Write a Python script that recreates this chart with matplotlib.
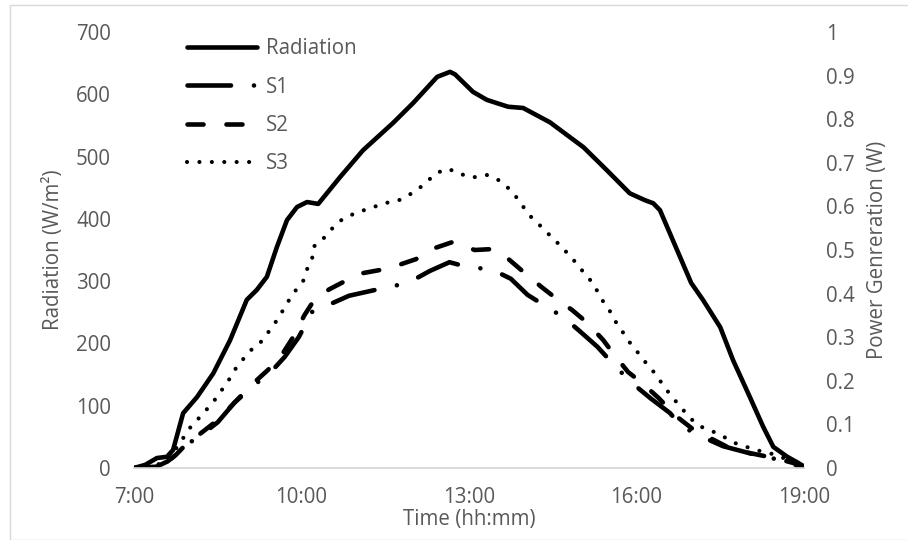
import matplotlib
matplotlib.use("Agg")
import matplotlib.pyplot as plt
from matplotlib.patches import Rectangle

# ---- data ----
rad_t = [7.0, 7.2, 7.41, 7.59, 7.70, 7.88, 8.13, 8.42, 8.72, 9.02, 9.20, 9.38, 9.56, 9.74,
         9.92, 10.10, 10.30, 10.69, 11.10, 11.64, 12.0, 12.43, 12.66, 12.75, 13.07, 13.32,
         13.7, 13.97, 14.45, 15.05, 15.47, 15.88, 16.15, 16.3, 16.42, 16.98, 17.19, 17.5,
         17.73, 18.03, 18.27, 18.45, 18.7, 18.9, 19.0]
rad_v = [0, 5, 16, 18, 29, 88, 114, 152, 205, 270, 286, 307, 355, 398,
         419, 427, 424, 467, 510, 554, 586, 628, 636, 632, 604, 591,
         580, 578, 555, 515, 478, 441, 430, 425, 414, 297, 270, 226,
         173, 114, 66, 34, 18, 8, 2]

s1_t = [7.0, 7.4, 7.6, 7.75, 7.9, 8.2, 8.5, 8.8, 9.15, 9.45, 9.7, 9.95, 10.2, 10.5,
        10.85, 11.2, 11.55, 11.9, 12.3, 12.65, 13.0, 13.4, 13.75, 14.05, 14.4, 14.7,
        15.0, 15.3, 15.6, 15.9, 16.25, 16.6, 16.8, 17.2, 17.55, 18.2, 18.6, 19.0]
s1_v = [0, 0.003, 0.015, 0.03, 0.05, 0.075, 0.105, 0.15, 0.19, 0.22, 0.255, 0.30, 0.36, 0.375,
        0.395, 0.405, 0.415, 0.424, 0.452, 0.472, 0.46, 0.456, 0.434, 0.397, 0.369, 0.345,
        0.312, 0.278, 0.236, 0.197, 0.16, 0.126, 0.096, 0.07, 0.05, 0.028, 0.018, 0.0]

s2_t = [7.0, 7.4, 7.6, 7.75, 7.9, 8.2, 8.5, 8.8, 9.1, 9.4, 9.65, 9.85, 10.05, 10.25,
        10.5, 10.8, 11.1, 11.4, 11.75, 12.05, 12.4, 12.7, 12.9, 13.1, 13.4, 13.7, 14.0,
        14.3, 14.55, 14.85, 15.1, 15.4, 15.6, 15.85, 16.1, 16.4, 16.7, 17.0, 17.3, 17.6,
        18.0, 18.5, 19.0]
s2_v = [0, 0.003, 0.015, 0.03, 0.05, 0.08, 0.11, 0.15, 0.19, 0.225, 0.26, 0.30, 0.35, 0.39,
        0.41, 0.43, 0.447, 0.454, 0.466, 0.479, 0.505, 0.518, 0.51, 0.50, 0.502, 0.48, 0.447,
        0.415, 0.39, 0.362, 0.335, 0.294, 0.26, 0.22, 0.195, 0.16, 0.12, 0.09, 0.07, 0.05,
        0.035, 0.022, 0.005]

s3_t = [7.0, 7.5, 7.65, 7.82, 8.04, 8.2, 8.34, 8.49, 8.61, 8.72, 8.84, 8.99, 9.13, 9.29,
        9.42, 9.56, 9.67, 9.79, 9.9, 10.03, 10.1, 10.19, 10.21, 10.37, 10.51, 10.66, 10.83,
        11.0, 11.17, 11.35, 11.51, 11.71, 11.87, 12.05, 12.23, 12.37, 12.57, 12.77, 12.96,
        13.14, 13.32, 13.52, 13.68, 13.82, 13.95, 14.08, 14.22, 14.38, 14.51, 14.67, 14.79,
        14.93, 15.06, 15.2, 15.32, 15.42, 15.55, 15.65, 15.78, 15.9, 16.03, 16.17, 16.31,
        16.44, 16.57, 16.71, 16.85, 17.0, 17.17, 17.38, 17.57, 17.77, 17.98, 18.18, 18.39,
        18.6, 18.8, 19.0]
s3_v = [0, 0.01, 0.025, 0.057, 0.099, 0.119, 0.14, 0.163, 0.186, 0.206, 0.232, 0.255, 0.275, 0.291,
        0.314, 0.339, 0.362, 0.388, 0.408, 0.429, 0.456, 0.479, 0.507, 0.523, 0.544, 0.564, 0.578,
        0.585, 0.594, 0.601, 0.608, 0.612, 0.622, 0.636, 0.654, 0.672, 0.686, 0.681, 0.668,
        0.667, 0.672, 0.661, 0.645, 0.626, 0.603, 0.580, 0.562, 0.544, 0.523, 0.509, 0.486,
        0.470, 0.447, 0.427, 0.401, 0.378, 0.355, 0.330, 0.307, 0.284, 0.264, 0.241, 0.22,
        0.197, 0.174, 0.152, 0.131, 0.110, 0.094, 0.083, 0.071, 0.057, 0.048, 0.040, 0.034,
        0.024, 0.018, 0.007]

x_ticks = [7, 10, 13, 16, 19]
x_labels = ["7:00", "10:00", "13:00", "16:00", "19:00"]
left_ticks = [0, 100, 200, 300, 400, 500, 600, 700]
right_ticks = [0, 0.1, 0.2, 0.3, 0.4, 0.5, 0.6, 0.7, 0.8, 0.9, 1.0]
right_labels = ["0", "0.1", "0.2", "0.3", "0.4", "0.5", "0.6", "0.7", "0.8", "0.9", "1"]

# ---- style ----
plt.rcParams['font.family'] = ['Open Sans', 'DejaVu Sans']
grey = '#595959'
fs = 14.8
W, H = 908, 540
fig = plt.figure(figsize=(W / 100, H / 100), dpi=100)
fig.patches.append(Rectangle((10 / W, 0), 1, 1 - 5 / H, transform=fig.transFigure,
                             fill=False, edgecolor='#d9d9d9', lw=1))
ax = fig.add_axes([134 / W, 1 - 468 / H, (804 - 134) / W, (468 - 32) / H])
ax2 = ax.twinx()

lw = 3.3
l_rad, = ax.plot(rad_t, rad_v, color='black', lw=lw, solid_capstyle='round',
                 solid_joinstyle='round', label='Radiation')
l1, = ax2.plot(s1_t, s1_v, color='black', lw=lw, dash_capstyle='round',
               dashes=(9.5, 5.0, 0.01, 5.0), label='S1')
l2, = ax2.plot(s2_t, s2_v, color='black', lw=lw, dash_capstyle='round',
               dashes=(3.5, 5.0), label='S2')
l3, = ax2.plot(s3_t, s3_v, color='black', lw=lw * 0.9, dash_capstyle='round',
               dashes=(0.01, 3.0), label='S3')

ax.set_xlim(7, 19)
ax.set_ylim(0, 700)
ax2.set_ylim(0, 1)
ax.set_xticks(x_ticks)
ax.set_xticklabels(x_labels)
ax.set_yticks(left_ticks)
ax2.set_yticks(right_ticks)
ax2.set_yticklabels(right_labels)

for a in (ax, ax2):
    for s in ('top', 'left', 'right'):
        a.spines[s].set_visible(False)
    a.spines['bottom'].set_color('#d9d9d9')
    a.spines['bottom'].set_linewidth(1.2)
    a.tick_params(length=0, labelsize=fs, colors=grey)
ax.tick_params(axis='y', pad=16.5)
ax2.tick_params(axis='y', pad=16)
ax.tick_params(axis='x', pad=14)

ax.set_ylabel('Radiation (W/m²)', fontsize=fs, color=grey, labelpad=9)
ax2.set_ylabel('Power Genreration (W)', fontsize=fs, color=grey, labelpad=9)
ax.set_xlabel('Time (hh:mm)', fontsize=fs, color=grey)
ax.xaxis.set_label_coords(0.5, -0.094)

leg = ax.legend(handles=[l_rad, l1, l2, l3], loc='upper left',
                bbox_to_anchor=(177 / W, 1 - 28 / H), bbox_transform=fig.transFigure,
                frameon=False, fontsize=fs, handlelength=3.4, handletextpad=0.45,
                labelspacing=0.84, borderpad=0)
for t in leg.get_texts():
    t.set_color(grey)

fig.savefig('out.png', dpi=100)
